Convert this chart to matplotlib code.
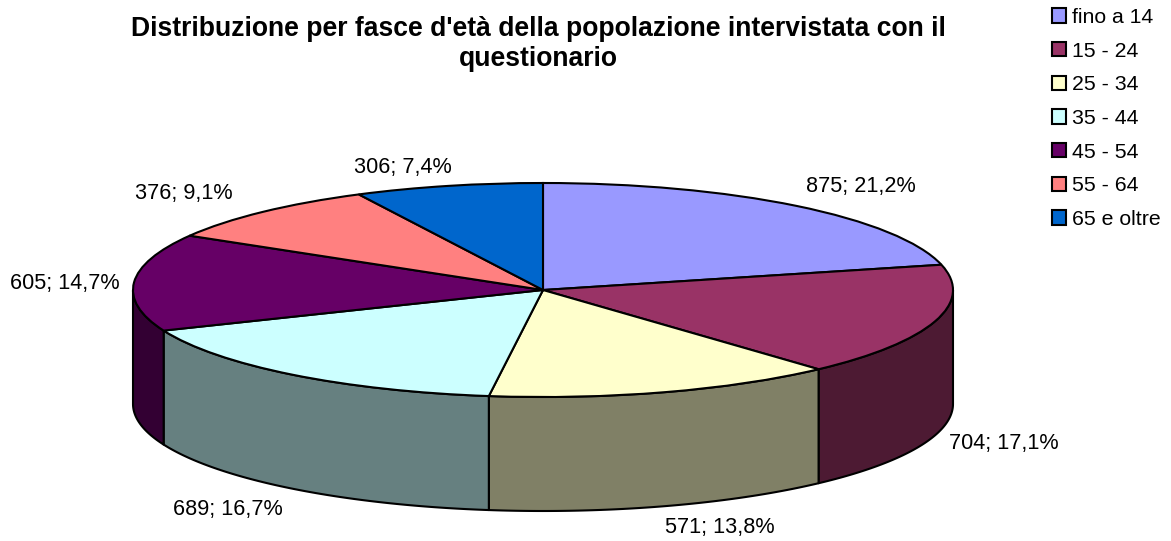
import numpy as np
import matplotlib
matplotlib.use("Agg")
import matplotlib.pyplot as plt

plt.rcParams['font.family'] = ['Liberation Sans', 'DejaVu Sans']

ages = ['fino a 14', '15 - 24', '25 - 34', '35 - 44', '45 - 54', '55 - 64', '65 e oltre']
counts = [875, 704, 571, 689, 605, 376, 306]
top_colors = ['#9999FF', '#993366', '#FFFFCC', '#CCFFFF', '#660066', '#FF8080', '#0066CC']
side_colors = ['#4C4C80', '#4D1A33', '#808066', '#668080', '#330033', '#804040', '#003366']
title = "Distribuzione per fasce d'età della popolazione intervistata con il\nquestionario"

# pixel layout of the ellipse
W, H = 1171, 541
cx, cy, rx, ry, depth = 543, 290, 410, 107, 114
lw = 1.5
fs = 15.6

# label anchors (left edge, centre) in pixels
label_pos = [(806, 187), (949, 443), (665, 528), (173, 509), (10, 284), (135, 193), (354, 168)]

fig = plt.figure(figsize=(W/100, H/100), dpi=100)
ax = fig.add_axes([0, 0, 1, 1])

wedges, _ = ax.pie(counts, colors=top_colors, startangle=90, counterclock=False, radius=1,
                   wedgeprops={'edgecolor': 'black', 'linewidth': lw, 'zorder': 3})
ax.set_aspect('auto')
ax.set_xlim(-cx/rx, (W-cx)/rx)
ax.set_ylim(-(H-cy)/ry, cy/ry)

# side wall, only the front half of the cake shows
total = sum(counts)
edges = np.cumsum([0] + counts) / total * 360
d = depth / ry
for i in range(len(counts)):
    a = max(edges[i], 90)
    b = min(edges[i+1], 270)
    if b <= a:
        continue
    t = np.radians(np.linspace(a, b, 80))
    x = np.sin(t)
    y = np.cos(t)
    ax.fill(np.r_[x, x[::-1]], np.r_[y, y[::-1]-d], facecolor=side_colors[i],
            edgecolor='black', linewidth=lw, zorder=2, joinstyle='round')

for v, (px, py) in zip(counts, label_pos):
    s = '%d; %.1f%%' % (v, 100.0*v/total)
    ax.text(px/W, 1-py/H, s.replace('.', ','), transform=ax.transAxes, fontsize=fs,
            ha='left', va='center', color='black')

fig.text(538/W, 1-44/H, title, fontsize=19.1, fontweight='bold', ha='center', va='center',
         linespacing=1.2)

ax.legend(wedges, ages, loc='upper left', bbox_to_anchor=(1052/W, 1-8/H), bbox_transform=fig.transFigure,
          frameon=False, fontsize=15.3, handlelength=0.67, handleheight=0.67, handletextpad=0.25,
          labelspacing=0.69, borderpad=0, borderaxespad=0)

fig.savefig('out.png', dpi=100)
